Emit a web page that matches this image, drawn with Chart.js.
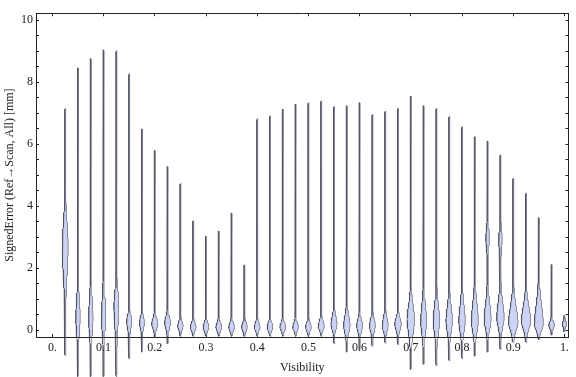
<!DOCTYPE html>
<html>
<head>
    <title>SignedError by Visibility</title>
    <script src="https://cdn.jsdelivr.net/npm/chart.js"></script>
    <style>
        body {
            margin: 0;
            padding: 0;
            background: #fff;
        }
        #chart-container {
            position: relative;
            width: 576px;
            height: 377px;
        }
    </style>
</head>
<body>
    <div id="chart-container">
        <canvas id="myChart"></canvas>
    </div>

    <script>
        // violin centres (visibility bins)
        const visibility = [0.025, 0.05, 0.075, 0.1, 0.125, 0.15, 0.175, 0.2, 0.225, 0.25,
                            0.275, 0.3, 0.325, 0.35, 0.375, 0.4, 0.425, 0.45, 0.475, 0.5,
                            0.525, 0.55, 0.575, 0.6, 0.625, 0.65, 0.675, 0.7, 0.725, 0.75,
                            0.775, 0.8, 0.825, 0.85, 0.875, 0.9, 0.925, 0.95, 0.975, 1.0];
        // largest / smallest signed error per bin [mm]
        const maxError = [7.15, 8.46, 8.76, 9.04, 9.02, 8.28, 6.49, 5.80, 5.28, 4.73,
                          3.53, 3.03, 3.20, 3.78, 2.10, 6.82, 6.92, 7.13, 7.29, 7.34,
                          7.40, 7.22, 7.24, 7.34, 6.96, 7.07, 7.16, 7.55, 7.24, 7.16,
                          6.90, 6.57, 6.24, 6.10, 5.66, 4.90, 4.42, 3.63, 2.12, 0.47];
        const minError = [-0.82, -1.5, -1.5, -1.5, -1.5, -0.93, -0.71, -0.23, -0.44, -0.2,
                          -0.2, -0.2, -0.2, -0.2, -0.2, -0.2, -0.2, -0.2, -0.2, -0.2,
                          -0.2, -0.44, -0.71, -0.63, -0.52, -0.42, -0.47, -1.27, -1.1, -1.15,
                          -0.99, -0.92, -0.84, -0.71, -0.63, -0.40, -0.40, -0.31, -0.16, -0.05];
        // where each violin is widest, and its relative density there
        const modeError = [2.7, 0.4, 0.4, 0.45, 0.8, 0.3, 0.25, 0.2, 0.25, 0.13,
                           0.1, 0.1, 0.1, 0.1, 0.1, 0.1, 0.1, 0.1, 0.1, 0.1,
                           0.12, 0.2, 0.16, 0.15, 0.15, 0.15, 0.2, 0.35, 0.3, 0.3,
                           0.3, 0.3, 0.3, 0.35, 0.4, 0.25, 0.3, 0.2, 0.16, 0.19];
        const modeDensity = [0.6, 0.45, 0.45, 0.45, 0.5, 0.52, 0.5, 0.62, 0.6, 0.55,
                             0.58, 0.58, 0.58, 0.58, 0.58, 0.58, 0.58, 0.58, 0.58, 0.58,
                             0.6, 0.6, 0.65, 0.6, 0.6, 0.6, 0.65, 0.75, 0.6, 0.65,
                             0.65, 0.65, 0.7, 0.7, 0.75, 0.95, 0.95, 0.9, 0.58, 0.45];
        // spread of the bulge above / below the mode [mm]
        const spreadUp = [0.75, 0.6, 0.6, 0.6, 0.45, 0.18, 0.18, 0.18, 0.18, 0.15,
                          0.14, 0.14, 0.14, 0.14, 0.14, 0.14, 0.14, 0.14, 0.14, 0.14,
                          0.18, 0.25, 0.3, 0.19, 0.22, 0.25, 0.2, 0.45, 0.5, 0.5,
                          0.45, 0.5, 0.55, 0.5, 0.5, 0.5, 0.45, 0.6, 0.12, 0.1];
        const spreadDown = [0.9, 0.5, 0.5, 0.5, 0.68, 0.25, 0.2, 0.15, 0.2, 0.12,
                            0.12, 0.12, 0.12, 0.12, 0.12, 0.12, 0.12, 0.12, 0.12, 0.12,
                            0.12, 0.18, 0.25, 0.2, 0.2, 0.18, 0.2, 0.45, 0.4, 0.4,
                            0.35, 0.35, 0.35, 0.3, 0.3, 0.25, 0.25, 0.2, 0.1, 0.08];
        // second, smaller bulge higher up (0 = none)
        const bumpError = [0, 0, 0, 0, 0, 0, 0, 0, 0, 0,
                           0, 0, 0, 0, 0, 0, 0, 0, 0, 0,
                           0, 0, 0, 0, 0, 0, 0, 0, 0, 0,
                           0, 0, 0, 2.98, 2.93, 0, 0, 0, 0, 0];
        const bumpDensity = [0, 0, 0, 0, 0, 0, 0, 0, 0, 0,
                             0, 0, 0, 0, 0, 0, 0, 0, 0, 0,
                             0, 0, 0, 0, 0, 0, 0, 0, 0, 0,
                             0, 0, 0, 0.35, 0.35, 0, 0, 0, 0, 0];

        const xTicks = [0, 0.1, 0.2, 0.3, 0.4, 0.5, 0.6, 0.7, 0.8, 0.9, 1];
        const xTickLabels = ['0.', '0.1', '0.2', '0.3', '0.4', '0.5', '0.6', '0.7', '0.8', '0.9', '1.'];
        const yTicks = [0, 2, 4, 6, 8, 10];

        const X_MIN = -0.032, X_MAX = 1.008;
        const Y_MIN = -0.22, Y_MAX = 10.22;
        const HALF_WIDTH = 0.01;   // x-units for density 1
        const TAIL = 0.09;         // thin stem density

        function halfWidth(i, y) {
            const d = y - modeError[i];
            const s = d > 0 ? spreadUp[i] : spreadDown[i];
            let w = modeDensity[i] * Math.exp(-0.5 * Math.pow(Math.abs(d) / s, 1.6));
            if (bumpDensity[i]) {
                const b = (y - bumpError[i]) / 0.35;
                w += bumpDensity[i] * Math.exp(-0.5 * b * b);
            }
            return Math.max(w, TAIL) * HALF_WIDTH;
        }

        function violinOutline(i) {
            const lo = minError[i], hi = maxError[i], c = visibility[i];
            const n = 240;
            const right = [], left = [];
            for (let j = 0; j <= n; j++) {
                const y = lo + (hi - lo) * j / n;
                const w = (j === 0 || j === n) ? 0 : halfWidth(i, y);
                right.push({x: c + w, y: y});
                left.push({x: c - w, y: y});
            }
            return right.concat(left.reverse());
        }

        Chart.defaults.font.family = "'Liberation Serif', 'Times New Roman', serif";
        Chart.defaults.font.size = 12;
        Chart.defaults.color = '#222';

        const axisColor = '#222';
        const yMinorTicks = [];
        for (let v = 0; v <= 10; v += 0.5) yMinorTicks.push(v);

        const ctx = document.getElementById('myChart');
        new Chart(ctx, {
            type: 'scatter',
            data: {
                datasets: visibility.map((v, i) => ({
                    data: violinOutline(i),
                    showLine: true,
                    fill: 'shape',
                    backgroundColor: '#cdd3f4',
                    borderColor: 'rgba(60, 62, 78, 0.7)',
                    borderWidth: 0.8,
                    pointRadius: 0,
                    tension: 0,
                    clip: false
                }))
            },
            options: {
                responsive: true,
                maintainAspectRatio: false,
                animation: false,
                layout: { padding: 0 },
                plugins: {
                    legend: { display: false },
                    tooltip: { enabled: false }
                },
                scales: {
                    x: {
                        type: 'linear',
                        position: 'bottom',
                        min: X_MIN,
                        max: X_MAX,
                        afterBuildTicks: s => { s.ticks = xTicks.map(v => ({value: v})); },
                        afterFit: s => { s.height = 40; },
                        ticks: {
                            autoSkip: false,
                            maxRotation: 0,
                            padding: 7,
                            callback: (v, idx) => xTickLabels[idx]
                        },
                        grid: { drawOnChartArea: false, tickLength: -3, color: axisColor },
                        border: { color: axisColor },
                        title: { display: true, text: 'Visibility', padding: { top: 0, bottom: 2 } }
                    },
                    x2: {
                        type: 'linear',
                        position: 'top',
                        min: X_MIN,
                        max: X_MAX,
                        afterBuildTicks: s => { s.ticks = xTicks.map(v => ({value: v})); },
                        afterFit: s => { s.height = 4; },
                        ticks: { display: false },
                        grid: { drawOnChartArea: false, tickLength: -3, color: axisColor },
                        border: { color: axisColor }
                    },
                    y: {
                        type: 'linear',
                        position: 'left',
                        min: Y_MIN,
                        max: Y_MAX,
                        afterBuildTicks: s => { s.ticks = yMinorTicks.map(v => ({value: v})); },
                        afterFit: s => { s.width = 36; },
                        ticks: {
                            autoSkip: false,
                            padding: 6,
                            callback: v => yTicks.includes(v) ? String(v) : ''
                        },
                        grid: { drawOnChartArea: false, tickLength: -3, color: axisColor },
                        border: { color: axisColor },
                        title: { display: true, text: 'SignedError (Ref\u2192Scan, All) [mm]', padding: { top: 3, bottom: 0 } }
                    },
                    y2: {
                        type: 'linear',
                        position: 'right',
                        min: Y_MIN,
                        max: Y_MAX,
                        afterBuildTicks: s => { s.ticks = yMinorTicks.map(v => ({value: v})); },
                        afterFit: s => { s.width = 2; },
                        ticks: { display: false },
                        grid: { drawOnChartArea: false, tickLength: -3, color: axisColor },
                        border: { color: axisColor }
                    }
                }
            }
        });
    </script>
</body>
</html>
